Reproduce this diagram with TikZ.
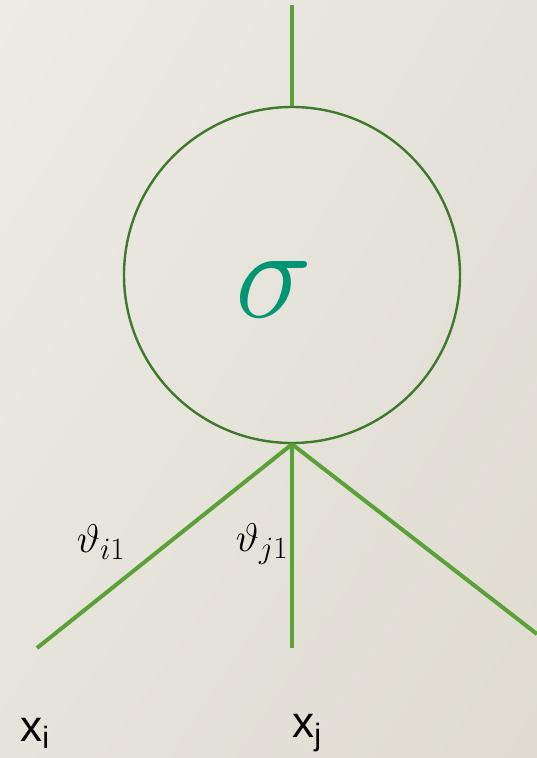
\RequirePackage{fix-cm}
\documentclass[tikz,border=0pt]{standalone}
\usepackage{amsmath,amssymb}
\usepackage{fontspec}
\usepackage{tikz}
\usepackage{xcolor}
\usetikzlibrary{positioning,shadings}
\newfontfamily\labelfont{Liberation Sans}
\DeclareMathSizes{40}{40}{31}{22}
\definecolor{bgtl}{HTML}{EDEBE5}
\definecolor{bgtr}{HTML}{E5E2DA}
\definecolor{bgbl}{HTML}{E6E3DB}
\definecolor{bgbr}{HTML}{DFDBD0}
\definecolor{wire}{HTML}{5AA238}
\definecolor{ring}{HTML}{3E7A2A}
\definecolor{actcol}{HTML}{009674}

\begin{document}
\begin{tikzpicture}[
    x=1pt, y=-1pt,
    neuron/.style={draw=ring, circle, line width=2.4pt, minimum size=336pt, inner sep=0pt},
    line/.style={draw=wire, line width=4pt},
    weight/.style={inner sep=0pt, font=\fontsize{40}{44}\selectfont},
    inlabel/.style={inner sep=0pt, font=\labelfont\fontsize{44}{50}\selectfont}
  ]
    \shade[upper left=bgtl, upper right=bgtr, lower left=bgbl, lower right=bgbr] (0,0) rectangle (537,758);
    \useasboundingbox (0,0) rectangle (537,758);

    \node[neuron] (cell) at (292,275) {};
    \node[text=actcol, inner sep=0pt, font=\fontsize{130}{132}\selectfont] (act) at (274,290) {$\sigma$};

    \coordinate (out) at (292,5);
    \coordinate (ini) at (37,648);
    \coordinate (inj) at (292,648);
    \coordinate (ink) at (537,634);

    \draw[line] (cell.north) -- (out);
    \draw[line] (cell.south) -- (ini);
    \draw[line] (cell.south) -- (inj);
    \draw[line] (cell.south) -- (ink);

    \node[weight] (wi) at (101,542) {$\vartheta_{i1}$};
    \node[weight] (wj) at (262,544) {$\vartheta_{j1}$};

    \node[inlabel] (xi) at (35,733) {x\textsubscript{i}};
    \node[inlabel] (xj) at (307,733) {x\textsubscript{j}};
  \end{tikzpicture}
\end{document}
